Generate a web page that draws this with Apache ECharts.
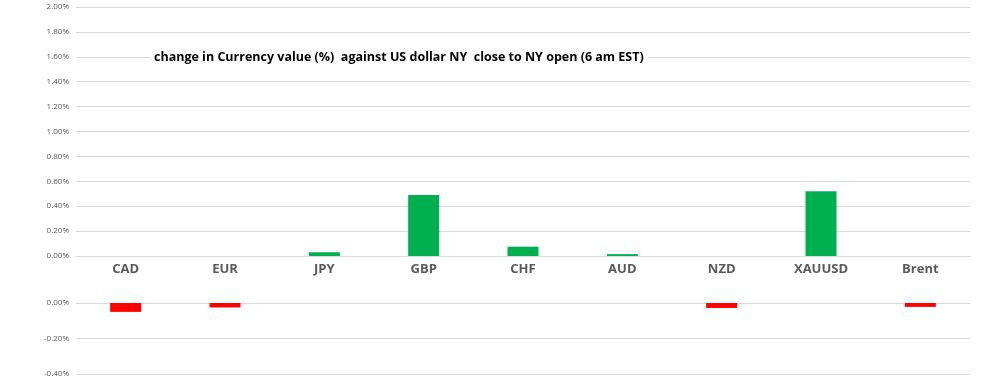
<!DOCTYPE html>
<html>
<head>
<meta charset="utf-8">
<script src="https://cdn.jsdelivr.net/npm/echarts@6/dist/echarts.min.js"></script>
<style>
html,body{margin:0;padding:0;background:#fff;}
#c{width:1001px;height:387px;}
</style>
</head>
<body>
<div id="c"></div>
<script>
const categories = ['CAD','EUR','JPY','GBP','CHF','AUD','NZD','XAUUSD','Brent'];
const changes = [-0.05, -0.025, 0.03, 0.49, 0.075, 0.015, -0.028, 0.52, -0.022];
const topTicks = [0, 2.0, 0.2];
const bottomTicks = [-0.4, 0, 0.2];
const titleText = 'change in Currency value (%)  against US dollar NY  close to NY open (6 am EST)';

const pos = changes.map(v => v > 0 ? v : null);
const neg = changes.map(v => v < 0 ? v : null);
const fmt = v => v.toFixed(2) + '%';
const gridColor = '#d9d9d9';
const labelColor = '#595959';

const chart = echarts.init(document.getElementById('c'), null, {renderer:'canvas'});
chart.setOption({
  animation: false,
  backgroundColor: '#fff',
  title: {
    text: titleText,
    left: 150, top: 49,
    padding: [2, 4],
    backgroundColor: '#fff',
    textStyle: {fontFamily: 'Open Sans', fontSize: 12.5, fontWeight: 'bold', color: '#000'}
  },
  grid: [
    {left: 76, right: 31, top: 7, bottom: 131, containLabel: false},
    {left: 76, right: 31, top: 303, bottom: 13, containLabel: false}
  ],
  xAxis: [
    {type: 'category', gridIndex: 0, data: categories,
     axisLine: {show: true, lineStyle: {color: gridColor}}, axisTick: {show: false},
     axisLabel: {color: labelColor, fontFamily: 'Open Sans', fontWeight: 'bold', fontSize: 13, margin: 7}},
    {type: 'category', gridIndex: 1, data: categories, position: 'top',
     axisLine: {show: false}, axisTick: {show: false}, axisLabel: {show: false}}
  ],
  yAxis: [
    {type: 'value', gridIndex: 0, min: topTicks[0], max: topTicks[1], interval: topTicks[2],
     axisLine: {show: false}, axisTick: {show: false},
     splitLine: {lineStyle: {color: gridColor}},
     axisLabel: {formatter: fmt, color: labelColor, fontFamily: 'Open Sans', fontSize: 8, margin: 7}},
    {type: 'value', gridIndex: 1, min: bottomTicks[0], max: bottomTicks[1], interval: bottomTicks[2],
     axisLine: {show: false}, axisTick: {show: false},
     splitLine: {lineStyle: {color: gridColor}},
     axisLabel: {formatter: fmt, color: labelColor, fontFamily: 'Open Sans', fontSize: 8, margin: 7}}
  ],
  series: [
    {type: 'bar', xAxisIndex: 0, yAxisIndex: 0, data: pos, barWidth: 31, itemStyle: {color: '#00b050'}},
    {type: 'bar', xAxisIndex: 1, yAxisIndex: 1, data: neg, barWidth: 31, itemStyle: {color: '#ff0000'}}
  ]
});
</script>
</body>
</html>
